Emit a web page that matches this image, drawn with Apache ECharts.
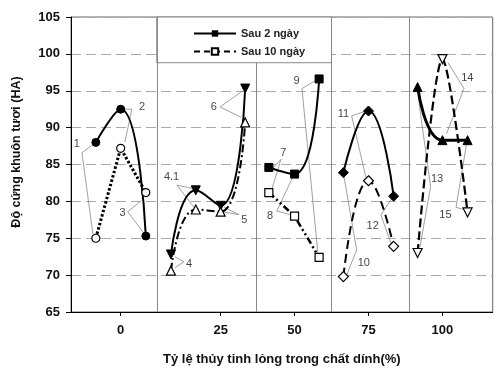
<!DOCTYPE html>
<html><head><meta charset="utf-8">
<script src="https://cdn.jsdelivr.net/npm/echarts@6/dist/echarts.min.js"></script>
<style>html,body{margin:0;padding:0;background:#fff}#c{width:500px;height:371px}</style>
</head><body><div id="c"></div>
<script>
// ---- data ----
const tickLabels = ['0', '25', '50', '75', '100'];
const tickPos = [-8.8, 25, 50, 75, 100];          // axis units where the category ticks sit
const separators = [3.4, 37.2, 62.5, 88.8];       // group separators (axis units)
const xPts = [
  [-17.2, -8.8, -0.3],
  [8.2, 16.6, 25, 33.3],
  [41.3, 50, 58.3],
  [66.5, 75, 83.5],
  [91.6, 100, 108.5]
];
const sau2 = [
  [88.0, 92.5, 75.3],
  [72.8, 81.5, 79.4, 95.3],
  [84.6, 83.7, 96.6],
  [83.9, 92.25, 80.7],
  [95.5, 88.3, 88.3]
];
const sau10 = [
  [75.0, 87.2, 81.2],
  [70.6, 78.9, 78.6, 90.7],
  [81.2, 78.0, 72.4],
  [69.8, 82.8, 73.9],
  [73.0, 99.3, 78.5]
];
// callout labels: text, label position, leader polyline (target, vertex, target)
const annoText = ['1', '2', '3', '4', '4.1', '5', '6', '7', '8', '9', '10', '11', '12', '13', '14', '15'];
const annoPos = [
  [-23.6, 87.8], [-1.6, 92.8], [-8.2, 78.4], [14.3, 71.5], [8.4, 83.3], [33.0, 77.5],
  [22.7, 92.75], [46.2, 86.5], [41.7, 78.0], [50.7, 96.3], [73.4, 71.7], [66.5, 91.8],
  [76.4, 76.7], [98.2, 83.1], [108.4, 96.8], [101.0, 78.15]
];
const annoLines = [
  [[-18.5, 87.6], [-21.9, 86.6], [-18.2, 75.6]],
  [[-7.7, 92.5], [-5.0, 92.5], [-7.4, 88.05]],
  [[-2.0, 80.05], [-6.4, 78.6], [-1.3, 75.85]],
  [[9.5, 72.5], [12.6, 71.8], [9.5, 71.0]],
  [[15.6, 81.75], [10.2, 82.2], [16.0, 79.2]],
  [[26.1, 79.2], [31.2, 78.2], [26.1, 78.55]],
  [[32.5, 95.0], [24.8, 92.8], [31.9, 91.4]],
  [[42.6, 84.5], [45.4, 85.7], [42.2, 81.5]],
  [[49.4, 83.3], [44.0, 78.7], [49.0, 78.15]],
  [[57.6, 96.5], [52.5, 95.3], [57.9, 72.9]],
  [[66.7, 83.4], [71.0, 73.4], [67.6, 70.0]],
  [[74.1, 92.25], [69.3, 91.6], [74.1, 83.3]],
  [[83.2, 80.6], [79.2, 78.15], [82.8, 74.1]],
  [[92.1, 93.3], [96.0, 82.0], [92.4, 73.8]],
  [[101.9, 98.8], [107.3, 95.3], [101.4, 89.2]],
  [[108.0, 78.8], [104.6, 79.2], [108.2, 87.9]]
];

// ---- styles ----
const FONT = 'Liberation Sans, Arial, sans-serif';
const sym2 = [
  {symbol: 'circle', size: 8, rot: 0},
  {symbol: 'triangle', size: 9, rot: 180},
  {symbol: 'rect', size: 8, rot: 0},
  {symbol: 'diamond', size: 10, rot: 0},
  {symbol: 'triangle', size: 9, rot: 0}
];
const sym10 = [
  {symbol: 'circle', size: 8, rot: 0},
  {symbol: 'triangle', size: 9, rot: 0},
  {symbol: 'rect', size: 8, rot: 0},
  {symbol: 'diamond', size: 10, rot: 0},
  {symbol: 'triangle', size: 9, rot: 180}
];
const line2W = [2, 2, 2, 2, 3];
const line10 = [
  {type: [2.5, 2], width: 3, smooth: false},
  {type: [8, 3, 2, 3], width: 2, smooth: 0.5},
  {type: [7, 3, 2, 3, 2, 3], width: 2.5, smooth: false},
  {type: [9, 5], width: 2, smooth: 0.5},
  {type: [9, 4], width: 2.2, smooth: 0.3}
];

const series = [];
for (let g = 0; g < 5; g++) {
  series.push({
    type: 'line', z: 3, smooth: 0.5,
    data: xPts[g].map((x, i) => [x, sau2[g][i]]),
    symbol: sym2[g].symbol, symbolSize: sym2[g].size, symbolRotate: sym2[g].rot,
    itemStyle: {color: '#000', borderColor: '#000', borderWidth: 1},
    lineStyle: {color: '#000', width: line2W[g]},
    silent: true
  });
  series.push({
    type: 'line', z: 3, smooth: line10[g].smooth,
    data: xPts[g].map((x, i) => [x, sau10[g][i]]),
    symbol: sym10[g].symbol, symbolSize: sym10[g].size, symbolRotate: sym10[g].rot,
    itemStyle: {color: '#fff', borderColor: '#000', borderWidth: 1.2},
    lineStyle: {color: '#000', width: line10[g].width, type: line10[g].type},
    silent: true
  });
}
// legend-only series
series.push({
  name: 'Sau 2 ngày', type: 'line', data: [], symbol: 'rect', symbolSize: 7,
  itemStyle: {color: '#000'}, lineStyle: {color: '#000', width: 2}
});
series.push({
  name: 'Sau 10 ngày', type: 'line', data: [], symbol: 'rect', symbolSize: 7,
  itemStyle: {color: '#fff', borderColor: '#000', borderWidth: 1},
  lineStyle: {color: '#000', width: 1.5, type: [6, 4]}
});
// frame: separators and legend box
series.push({
  type: 'scatter', z: 1, silent: true, symbolSize: 0, data: [[tickPos[0], 65]],
  markArea: {
    silent: true,
    itemStyle: {color: '#fff', borderColor: '#888', borderWidth: 1},
    label: {show: false},
    data: [[{coord: [separators[0], 105]}, {coord: [separators[2], 98.8]}]]
  },
  markLine: {
    silent: true, symbol: ['none', 'none'], animation: false,
    label: {show: false},
    lineStyle: {color: '#888', width: 1, type: 'solid'},
    data: separators.map((s, i) => [{coord: [s, i === 1 ? 98.8 : 105]}, {coord: [s, 65]}])
  }
});
// callout leader lines
series.push({
  type: 'lines', coordinateSystem: 'cartesian2d', polyline: true, z: 2, silent: true,
  lineStyle: {color: '#888', width: 0.8, opacity: 1},
  data: annoLines.map(c => ({coords: c}))
});
// callout text
series.push({
  type: 'scatter', z: 4, symbolSize: 0, silent: true,
  data: annoText.map((t, i) => ({name: t, value: annoPos[i]})),
  label: {
    show: true, position: [0, 0], align: 'center', verticalAlign: 'middle',
    formatter: p => p.name, fontSize: 11, color: '#111', fontFamily: FONT
  }
});

const chart = echarts.init(document.getElementById('c'), null, {renderer: 'canvas'});
chart.setOption({
  animation: false,
  backgroundColor: '#fff',
  grid: {left: 71, right: 7.3, top: 17, bottom: 59, show: true, borderColor: '#666', borderWidth: 1},
  legend: {
    data: ['Sau 2 ngày', 'Sau 10 ngày'], orient: 'vertical', left: 188, top: 23,
    itemWidth: 42, itemHeight: 8, itemGap: 7, selectedMode: false,
    textStyle: {fontFamily: FONT, fontSize: 11, fontWeight: 'bold', color: '#222'}
  },
  xAxis: {
    type: 'value', min: -25.6, max: 117,
    axisLine: {show: true, onZero: false, lineStyle: {color: '#000', width: 1}},
    axisTick: {show: true, inside: false, length: 4, customValues: tickPos, lineStyle: {color: '#000'}},
    axisLabel: {
      customValues: tickPos, margin: 12, fontFamily: FONT, fontSize: 13, fontWeight: 'bold', color: '#111',
      formatter: v => { const i = tickPos.findIndex(p => Math.abs(p - v) < 1e-6); return i >= 0 ? tickLabels[i] : ''; }
    },
    splitLine: {show: false},
    name: 'Tỷ lệ thủy tinh lỏng trong chất dính(%)', nameLocation: 'middle', nameGap: 41,
    nameTextStyle: {fontFamily: FONT, fontSize: 13, fontWeight: 'bold', color: '#111'}
  },
  yAxis: {
    type: 'value', min: 65, max: 105, interval: 5,
    axisLine: {show: true, onZero: false, lineStyle: {color: '#000', width: 1}},
    axisTick: {show: true, inside: false, length: 5, lineStyle: {color: '#000'}},
    axisLabel: {margin: 11, fontFamily: FONT, fontSize: 13, fontWeight: 'bold', color: '#111'},
    splitLine: {show: true, lineStyle: {color: '#aaa', width: 1, type: [10, 5]}}
  },
  graphic: [{
    type: 'text', x: 17, y: 152, rotation: Math.PI / 2, silent: true,
    style: {
      text: 'Độ cứng khuôn tươi (HA)', textAlign: 'center', textVerticalAlign: 'middle',
      font: 'bold 12.5px ' + FONT, fill: '#111'
    }
  }],
  series: series
});
</script></body></html>
